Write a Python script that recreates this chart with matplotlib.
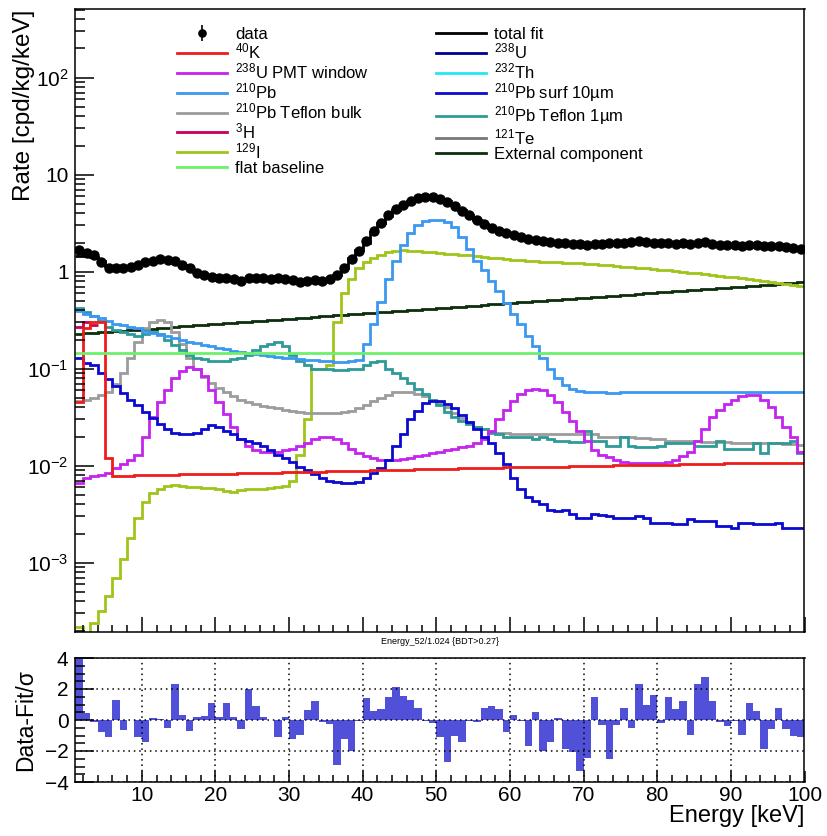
import numpy as np
import matplotlib
matplotlib.use("Agg")
import matplotlib.pyplot as plt
from matplotlib.lines import Line2D
from matplotlib.ticker import FixedLocator, FixedFormatter, MultipleLocator, LogLocator, NullFormatter

plt.rcParams['font.family'] = ['Liberation Sans', 'DejaVu Sans']
plt.rcParams['mathtext.fontset'] = 'custom'
plt.rcParams['mathtext.rm'] = 'Liberation Sans'
plt.rcParams['mathtext.it'] = 'Liberation Sans:italic'
plt.rcParams['mathtext.bf'] = 'Liberation Sans:bold'

# 1 keV bins from 1 to 100 keV
edges = np.arange(1, 101)
centers = edges[:-1] + 0.5

data_rate = [
    1.68, 1.55, 1.50, 1.25, 1.10, 1.08, 1.10, 1.12, 1.17, 1.25,
    1.30, 1.34, 1.33, 1.28, 1.18, 1.08, 0.98, 0.93, 0.89, 0.87,
    0.86, 0.84, 0.80, 0.86, 0.86, 0.86, 0.85, 0.86, 0.84, 0.82,
    0.78, 0.81, 0.82, 0.81, 0.84, 0.92, 1.08, 1.35, 1.65, 2.05,
    2.60, 3.20, 3.80, 4.40, 4.90, 5.40, 5.70, 5.90, 5.85, 5.60,
    5.20, 4.80, 4.20, 3.80, 3.40, 3.10, 2.85, 2.65, 2.50, 2.38,
    2.28, 2.18, 2.12, 2.06, 2.02, 1.98, 1.96, 1.95, 1.92, 1.90,
    1.95, 1.93, 1.96, 1.98, 2.00, 2.03, 2.07, 2.02, 2.00, 1.98,
    1.96, 1.95, 1.97, 1.93, 2.00, 2.02, 1.95, 1.90, 1.88, 1.87,
    1.86, 1.88, 1.87, 1.84, 1.85, 1.82, 1.78, 1.74, 1.70]
data_rel_err = 0.03

total_fit = [
    1.45, 1.50, 1.42, 1.28, 1.15, 1.10, 1.10, 1.13, 1.18, 1.24,
    1.29, 1.32, 1.32, 1.26, 1.17, 1.08, 0.99, 0.93, 0.89, 0.87,
    0.86, 0.85, 0.84, 0.84, 0.85, 0.85, 0.85, 0.85, 0.84, 0.83,
    0.82, 0.81, 0.81, 0.82, 0.84, 0.92, 1.10, 1.40, 1.68, 2.00,
    2.55, 3.15, 3.75, 4.30, 4.85, 5.35, 5.65, 5.88, 5.85, 5.65,
    5.30, 4.90, 4.30, 3.85, 3.42, 3.08, 2.83, 2.64, 2.50, 2.38,
    2.28, 2.20, 2.12, 2.07, 2.03, 2.00, 1.98, 1.97, 1.96, 1.95,
    1.95, 1.96, 1.97, 1.98, 2.00, 2.01, 2.02, 2.01, 2.00, 1.98,
    1.97, 1.96, 1.95, 1.94, 1.96, 1.96, 1.94, 1.91, 1.89, 1.88,
    1.87, 1.87, 1.86, 1.85, 1.84, 1.82, 1.79, 1.76, 1.73]

k40 = [
    0.045, 0.26, 0.30, 0.30, 0.012, 0.0079, 0.0079, 0.0079, 0.0080, 0.0080,
    0.0080, 0.0081, 0.0081, 0.0081, 0.0082, 0.0082, 0.0082, 0.0082, 0.0083, 0.0083,
    0.0083, 0.0083, 0.0084, 0.0084, 0.0084, 0.0085, 0.0085, 0.0085, 0.0086, 0.0086,
    0.0086, 0.0087, 0.0087, 0.0087, 0.0088, 0.0088, 0.0088, 0.0089, 0.0089, 0.0089,
    0.0090, 0.0090, 0.0090, 0.0091, 0.0091, 0.0091, 0.0092, 0.0092, 0.0092, 0.0093,
    0.0093, 0.0093, 0.0094, 0.0094, 0.0094, 0.0095, 0.0095, 0.0095, 0.0096, 0.0096,
    0.0096, 0.0097, 0.0097, 0.0097, 0.0098, 0.0098, 0.0098, 0.0099, 0.0099, 0.0099,
    0.0100, 0.0100, 0.0100, 0.0101, 0.0101, 0.0101, 0.0102, 0.0102, 0.0102, 0.0103,
    0.0103, 0.0103, 0.0104, 0.0104, 0.0104, 0.0105, 0.0105, 0.0105, 0.0106, 0.0106,
    0.0106, 0.0106, 0.0107, 0.0107, 0.0107, 0.0107, 0.0108, 0.0108, 0.0108]

u238_pmt = [
    0.0066, 0.0075, 0.0078, 0.0080, 0.0085, 0.0095, 0.0105, 0.0115, 0.013, 0.020,
    0.032, 0.045, 0.060, 0.080, 0.095, 0.105, 0.100, 0.085, 0.060, 0.045,
    0.034, 0.025, 0.019, 0.016, 0.0145, 0.014, 0.014, 0.014, 0.0145, 0.015,
    0.016, 0.017, 0.019, 0.020, 0.020, 0.019, 0.017, 0.015, 0.0135, 0.0125,
    0.012, 0.0115, 0.0115, 0.0115, 0.0118, 0.012, 0.0125, 0.013, 0.0135, 0.014,
    0.0145, 0.015, 0.0155, 0.016, 0.017, 0.019, 0.023, 0.030, 0.038, 0.047,
    0.055, 0.060, 0.062, 0.060, 0.053, 0.045, 0.036, 0.029, 0.023, 0.018,
    0.0145, 0.013, 0.0122, 0.0115, 0.011, 0.0107, 0.0107, 0.0107, 0.0107, 0.0108,
    0.011, 0.0115, 0.0125, 0.014, 0.018, 0.024, 0.032, 0.038, 0.043, 0.048,
    0.052, 0.054, 0.053, 0.048, 0.040, 0.032, 0.025, 0.020, 0.014]

pb210 = [
    0.39, 0.37, 0.35, 0.33, 0.31, 0.29, 0.28, 0.27, 0.26, 0.245,
    0.235, 0.225, 0.215, 0.205, 0.197, 0.19, 0.183, 0.176, 0.17, 0.164,
    0.158, 0.153, 0.149, 0.145, 0.141, 0.138, 0.135, 0.132, 0.13, 0.128,
    0.126, 0.124, 0.122, 0.12, 0.119, 0.118, 0.118, 0.12, 0.123, 0.18,
    0.29, 0.49, 0.85, 1.3, 1.9, 2.5, 3.0, 3.3, 3.45, 3.4,
    3.25, 2.9, 2.3, 1.7, 1.3, 1.04, 0.80, 0.63, 0.48, 0.37,
    0.29, 0.22, 0.17, 0.13, 0.10, 0.08, 0.068, 0.062, 0.059, 0.058,
    0.057, 0.057, 0.056, 0.056, 0.057, 0.057, 0.057, 0.057, 0.057, 0.057,
    0.057, 0.057, 0.058, 0.057, 0.057, 0.057, 0.057, 0.057, 0.057, 0.057,
    0.057, 0.057, 0.058, 0.058, 0.057, 0.057, 0.057, 0.058, 0.058]

pb210_teflon_bulk = [
    0.047, 0.048, 0.050, 0.053, 0.058, 0.070, 0.090, 0.13, 0.19, 0.26,
    0.30, 0.32, 0.30, 0.24, 0.18, 0.13, 0.10, 0.083, 0.072, 0.064,
    0.057, 0.052, 0.048, 0.045, 0.043, 0.041, 0.040, 0.039, 0.038, 0.037,
    0.036, 0.035, 0.035, 0.035, 0.035, 0.035, 0.036, 0.037, 0.039, 0.042,
    0.046, 0.050, 0.054, 0.057, 0.058, 0.057, 0.055, 0.052, 0.048, 0.044,
    0.040, 0.035, 0.031, 0.028, 0.025, 0.024, 0.023, 0.022, 0.022, 0.021,
    0.021, 0.021, 0.021, 0.021, 0.021, 0.021, 0.021, 0.021, 0.021, 0.021,
    0.021, 0.020, 0.020, 0.020, 0.020, 0.020, 0.0195, 0.0195, 0.019, 0.019,
    0.018, 0.018, 0.018, 0.018, 0.018, 0.0175, 0.0175, 0.0175, 0.0175, 0.017,
    0.017, 0.017, 0.017, 0.017, 0.017, 0.017, 0.0168, 0.0168, 0.0165]

h3 = [0.27, 0.30, 0.28]

i129 = [
    2.2e-4, 1.9e-4, 2.4e-4, 3.2e-4, 4.5e-4, 7.0e-4, 1.1e-3, 1.8e-3, 2.9e-3, 4.2e-3,
    5.3e-3, 5.8e-3, 6.2e-3, 6.4e-3, 6.2e-3, 6.0e-3, 6.0e-3, 5.9e-3, 5.9e-3, 5.8e-3,
    5.5e-3, 5.4e-3, 5.6e-3, 5.7e-3, 5.8e-3, 5.8e-3, 5.9e-3, 6.0e-3, 6.2e-3, 7.0e-3,
    0.013, 0.03, 0.10, 0.10, 0.11, 0.30, 0.60, 0.85, 1.10, 1.25,
    1.38, 1.50, 1.60, 1.65, 1.66, 1.65, 1.63, 1.60, 1.58, 1.56,
    1.54, 1.52, 1.50, 1.47, 1.44, 1.41, 1.39, 1.37, 1.35, 1.33,
    1.31, 1.29, 1.28, 1.27, 1.26, 1.25, 1.24, 1.23, 1.22, 1.20,
    1.19, 1.17, 1.16, 1.14, 1.13, 1.11, 1.10, 1.08, 1.07, 1.05,
    1.03, 1.01, 0.99, 0.98, 0.96, 0.94, 0.93, 0.91, 0.89, 0.88,
    0.86, 0.84, 0.82, 0.80, 0.78, 0.77, 0.75, 0.73, 0.71]

flat_baseline = 0.145

pb210_surf = [
    0.13, 0.115, 0.108, 0.09, 0.078, 0.066, 0.056, 0.048, 0.042, 0.036,
    0.031, 0.027, 0.024, 0.022, 0.021, 0.021, 0.022, 0.024, 0.026, 0.025,
    0.023, 0.021, 0.019, 0.018, 0.017, 0.016, 0.0145, 0.013, 0.012, 0.011,
    0.0098, 0.009, 0.0082, 0.0075, 0.0070, 0.0068, 0.0066, 0.0066, 0.0068, 0.0075,
    0.0084, 0.0094, 0.0115, 0.016, 0.0215, 0.030, 0.037, 0.044, 0.046, 0.046,
    0.043, 0.039, 0.033, 0.028, 0.024, 0.020, 0.017, 0.0135, 0.0105, 0.0075,
    0.0058, 0.0048, 0.0043, 0.0040, 0.0035, 0.0034, 0.0035, 0.0032, 0.0029, 0.0029,
    0.0032, 0.0031, 0.0030, 0.0029, 0.0029, 0.0029, 0.0030, 0.0029, 0.0026, 0.0026,
    0.0026, 0.0025, 0.0025, 0.0028, 0.0027, 0.0027, 0.0027, 0.0024, 0.0024, 0.0023,
    0.0026, 0.0026, 0.0025, 0.0025, 0.0025, 0.0026, 0.0023, 0.0023, 0.0023]

pb210_teflon_1um = [
    0.42, 0.38, 0.35, 0.31, 0.27, 0.25, 0.24, 0.23, 0.22, 0.23,
    0.24, 0.23, 0.20, 0.175, 0.155, 0.14, 0.13, 0.125, 0.12, 0.12,
    0.12, 0.125, 0.13, 0.14, 0.155, 0.17, 0.18, 0.19, 0.17, 0.14,
    0.12, 0.11, 0.10, 0.10, 0.10, 0.097, 0.097, 0.10, 0.10, 0.11,
    0.118, 0.12, 0.10, 0.09, 0.08, 0.072, 0.062, 0.055, 0.048, 0.042,
    0.036, 0.032, 0.029, 0.027, 0.025, 0.024, 0.022, 0.021, 0.020, 0.020,
    0.020, 0.020, 0.019, 0.020, 0.019, 0.018, 0.018, 0.0175, 0.0175, 0.023,
    0.018, 0.018, 0.016, 0.016, 0.020, 0.016, 0.0157, 0.0157, 0.0157, 0.016,
    0.017, 0.017, 0.017, 0.017, 0.016, 0.016, 0.016, 0.018, 0.015, 0.015,
    0.015, 0.015, 0.017, 0.0134, 0.017, 0.017, 0.017, 0.018, 0.0134]

external = [
    0.229, 0.232, 0.235, 0.238, 0.241, 0.244, 0.247, 0.250, 0.253, 0.256,
    0.259, 0.263, 0.266, 0.269, 0.273, 0.276, 0.280, 0.283, 0.287, 0.290,
    0.294, 0.298, 0.301, 0.305, 0.309, 0.313, 0.317, 0.321, 0.325, 0.329,
    0.333, 0.337, 0.341, 0.346, 0.350, 0.354, 0.359, 0.363, 0.368, 0.372,
    0.377, 0.382, 0.386, 0.391, 0.396, 0.401, 0.406, 0.411, 0.416, 0.421,
    0.427, 0.432, 0.437, 0.443, 0.448, 0.454, 0.460, 0.465, 0.471, 0.477,
    0.483, 0.489, 0.495, 0.501, 0.508, 0.514, 0.521, 0.527, 0.534, 0.540,
    0.547, 0.554, 0.561, 0.568, 0.575, 0.582, 0.589, 0.597, 0.604, 0.612,
    0.620, 0.627, 0.635, 0.643, 0.651, 0.660, 0.668, 0.676, 0.685, 0.693,
    0.702, 0.711, 0.720, 0.729, 0.738, 0.747, 0.757, 0.766, 0.776]

residual = [
    3.95, 0.43, -0.15, -0.8, -1.1, 1.3, -0.65, 0.02, -1.1, -1.45,
    0.12, 0.05, -0.5, 2.3, 0.3, -0.7, 0.2, 0.25, 1.1, 0.2,
    1.1, 0.2, -0.6, 2.0, 0.9, 0.2, 0.0, -1.1, 0.2, -1.2,
    -0.95, 0.65, 1.2, -0.1, -0.25, -2.9, -1.25, -2.0, -0.05, 1.4,
    0.6, 0.7, 1.5, 2.15, 1.55, 1.3, 0.8, -0.05, -0.2, -1.1,
    -2.7, -1.0, -1.4, -0.05, -0.1, 0.8, 0.9, 0.7, -0.75, 0.3,
    -0.05, -1.7, 0.5, -2.0, -1.45, 0.1, -1.9, -2.05, -3.3, -2.45,
    1.5, -0.3, -2.5, -0.3, 0.8, -0.5, 2.35, 1.0, 1.6, -0.2,
    1.5, 0.7, 1.2, -0.95, 2.35, 2.75, 1.2, -0.15, -0.4, -0.05,
    -0.95, 1.1, 0.55, -1.85, -0.6, 0.8, -0.6, -1.0, -1.1]

colors = {
    'k40': '#ee1c1c', 'u238_pmt': '#c424ee', 'pb210': '#3a98f0',
    'teflon_bulk': '#9c9c9c', 'h3': '#c8005a', 'i129': '#9fc41a',
    'flat': '#6cf06c', 'total': 'black', 'u238': '#000090',
    'th232': '#22e8f0', 'surf': '#0a0ad0', 'teflon_1um': '#2e9a98',
    'te121': '#777777', 'external': '#0c2e0c', 'resid': '#5050d8',
}

fig = plt.figure(figsize=(8.28, 8.36), dpi=100)
ax = fig.add_axes([75.5 / 828, 1 - 632.3 / 836, 729 / 828, 623 / 836])
axr = fig.add_axes([75.5 / 828, 1 - 782 / 836, 729 / 828, 124 / 836])

lw = 2.0
ax.stairs(external, edges, baseline=None, color=colors['external'], lw=lw)
ax.hlines(flat_baseline, edges[0], edges[-1], color=colors['flat'], lw=lw)
ax.stairs(i129, edges, baseline=None, color=colors['i129'], lw=lw)
ax.stairs(pb210_teflon_bulk, edges, baseline=None, color=colors['teflon_bulk'], lw=lw)
ax.stairs(pb210_teflon_1um, edges, baseline=None, color=colors['teflon_1um'], lw=lw)
ax.stairs(pb210, edges, baseline=None, color=colors['pb210'], lw=lw)
ax.stairs(u238_pmt, edges, baseline=None, color=colors['u238_pmt'], lw=lw)
ax.stairs(pb210_surf, edges, baseline=None, color=colors['surf'], lw=lw)
ax.stairs(h3, edges[:len(h3) + 1], baseline=None, color=colors['h3'], lw=lw)
ax.stairs(k40, edges, baseline=None, color=colors['k40'], lw=lw)
ax.stairs(total_fit, edges, baseline=None, color=colors['total'], lw=lw)

err = np.array(data_rate) * data_rel_err
data_handle = ax.errorbar(centers, data_rate, yerr=err, fmt='o', color='black',
                          ms=6.5, elinewidth=1.2, capsize=0, zorder=5)

ax.set_yscale('log')
ax.set_xlim(1, 100)
ax.set_ylim(1.92e-4, 507)

ax.yaxis.set_major_locator(FixedLocator([1e-3, 1e-2, 1e-1, 1, 10, 100]))
ax.yaxis.set_major_formatter(FixedFormatter(
    [r'$10^{-3}$', r'$10^{-2}$', r'$10^{-1}$', '1', '10', r'$10^{2}$']))
ax.yaxis.set_minor_locator(LogLocator(base=10, subs=np.arange(2, 10)))
ax.yaxis.set_minor_formatter(NullFormatter())
ax.xaxis.set_major_locator(MultipleLocator(10))
ax.xaxis.set_minor_locator(MultipleLocator(2))
ax.tick_params(axis='x', which='both', direction='in', labelbottom=False)
ax.tick_params(axis='x', which='major', length=11, width=1.1)
ax.tick_params(axis='x', which='minor', length=5, width=1.1)
ax.tick_params(axis='y', which='major', direction='in', length=14, width=1.1,
               labelsize=15, pad=5)
ax.tick_params(axis='y', which='minor', direction='in', length=7, width=1.1)
ax.set_ylabel('Rate [cpd/kg/keV]', fontsize=17.5, loc='top')
ax.yaxis.set_label_coords(-0.056, 1.0)

for a in (ax, axr):
    for s in a.spines.values():
        s.set_linewidth(1.1)

handles = [
    data_handle,
    Line2D([], [], color=colors['k40'], lw=lw),
    Line2D([], [], color=colors['u238_pmt'], lw=lw),
    Line2D([], [], color=colors['pb210'], lw=lw),
    Line2D([], [], color=colors['teflon_bulk'], lw=lw),
    Line2D([], [], color=colors['h3'], lw=lw),
    Line2D([], [], color=colors['i129'], lw=lw),
    Line2D([], [], color=colors['flat'], lw=lw),
    Line2D([], [], color=colors['total'], lw=lw),
    Line2D([], [], color=colors['u238'], lw=lw),
    Line2D([], [], color=colors['th232'], lw=lw),
    Line2D([], [], color=colors['surf'], lw=lw),
    Line2D([], [], color=colors['teflon_1um'], lw=lw),
    Line2D([], [], color=colors['te121'], lw=lw),
    Line2D([], [], color=colors['external'], lw=lw),
]
labels = [
    'data', r'$^{40}$K', r'$^{238}$U PMT window', r'$^{210}$Pb',
    r'$^{210}$Pb Teflon bulk', r'$^{3}$H', r'$^{129}$I', 'flat baseline',
    'total fit', r'$^{238}$U', r'$^{232}$Th', r'$^{210}$Pb surf 10µm',
    r'$^{210}$Pb Teflon 1µm', r'$^{121}$Te', 'External component',
]
leg = ax.legend(handles, labels, ncol=2, loc='upper left', bbox_to_anchor=(0.139, 0.972),
                frameon=False, fontsize=12, handlelength=3.0, handletextpad=0.5,
                columnspacing=4.0, labelspacing=0.0, borderpad=0, borderaxespad=0,
                markerscale=0.8)

fig.text(440 / 828, 1 - 641 / 836, 'Energy_52/1.024 {BDT>0.27}', fontsize=6.5,
         ha='center', va='center')

# residual panel
axr.stairs(residual, edges, baseline=0, fill=True, color=colors['resid'], lw=0)
axr.set_xlim(1, 100)
axr.set_ylim(-4, 4)
axr.xaxis.set_major_locator(MultipleLocator(10))
axr.xaxis.set_minor_locator(MultipleLocator(2))
axr.yaxis.set_major_locator(MultipleLocator(2))
axr.yaxis.set_minor_locator(MultipleLocator(0.5))
axr.grid(True, which='major', linestyle=(0, (1, 2.5)), color='black', linewidth=1.1)
axr.set_axisbelow(False)
axr.tick_params(axis='x', which='major', direction='in', length=8, width=1.1,
                labelsize=15, pad=3)
axr.tick_params(axis='x', which='minor', direction='in', length=5, width=1.1)
axr.tick_params(axis='y', which='major', direction='in', length=14, width=1.1,
                labelsize=15, pad=5)
axr.tick_params(axis='y', which='minor', direction='in', length=7, width=1.1)
axr.set_ylabel('Data-Fit/σ', fontsize=16.5)
axr.yaxis.set_label_coords(-0.052, 0.5)
axr.set_xlabel('Energy [keV]', fontsize=17, loc='right', labelpad=0)

fig.savefig('out.png', dpi=100)
